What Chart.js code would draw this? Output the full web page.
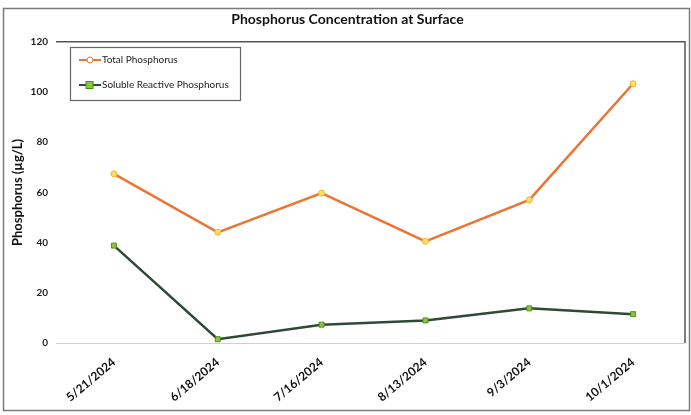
<!DOCTYPE html>
<html>
<head>
<meta charset="utf-8">
<script src="https://cdn.jsdelivr.net/npm/chart.js@4/dist/chart.umd.min.js"></script>
<style>
html,body{margin:0;padding:0;background:#fff;}
#wrap{width:691px;height:415px;position:relative;}
</style>
</head>
<body>
<div id="wrap"><canvas id="c" width="691" height="415"></canvas></div>
<script>
const categories = ["5/21/2024","6/18/2024","7/16/2024","8/13/2024","9/3/2024","10/1/2024"];
const totalPhosphorus = [67.4, 44.1, 59.7, 40.5, 57.0, 103.3];
const solubleReactivePhosphorus = [38.8, 1.5, 7.3, 9.0, 13.8, 11.5];
const yTicks = [0, 20, 40, 60, 80, 100, 120];
const seriesNames = ["Total Phosphorus", "Soluble Reactive Phosphorus"];

const FONT = "Lato, 'Open Sans', sans-serif";

const framePlugin = {
  id: 'frame',
  beforeDraw(chart) {
    const ctx = chart.ctx;
    ctx.save();
    ctx.fillStyle = '#fff';
    ctx.fillRect(0, 0, chart.width, chart.height);
    ctx.strokeStyle = '#7a7a7a';
    ctx.lineWidth = 1.5;
    ctx.strokeRect(3.5, 8.5, 686, 402);
    ctx.restore();
  },
  beforeDatasetsDraw(chart) {
    const {ctx, chartArea: a} = chart;
    ctx.save();
    ctx.strokeStyle = '#d0d0d0';
    ctx.lineWidth = 1;
    ctx.beginPath();
    ctx.moveTo(a.left - 6, a.bottom + 0.5);
    ctx.lineTo(a.right, a.bottom + 0.5);
    ctx.stroke();
    ctx.strokeStyle = '#555';
    ctx.lineWidth = 1.5;
    ctx.beginPath();
    ctx.moveTo(a.left - 6, a.top);
    ctx.lineTo(a.right, a.top);
    ctx.lineTo(a.right, a.bottom);
    ctx.stroke();
    ctx.restore();
  },
  afterDraw(chart) {
    const ctx = chart.ctx;
    const x = 70, y = 47, w = 170, h = 53;
    ctx.save();
    ctx.fillStyle = '#fff';
    ctx.fillRect(x, y, w, h);
    ctx.strokeStyle = '#666';
    ctx.lineWidth = 1.2;
    ctx.strokeRect(x + 0.5, y + 0.5, w, h);
    ctx.font = "10px " + FONT;
    ctx.textBaseline = 'middle';
    chart.data.datasets.forEach((ds, i) => {
      const yy = y + 13 + i * 25;
      ctx.strokeStyle = ds.borderColor;
      ctx.lineWidth = 2;
      ctx.beginPath();
      ctx.moveTo(x + 9, yy);
      ctx.lineTo(x + 31, yy);
      ctx.stroke();
      ctx.fillStyle = ds.pointBackgroundColor;
      ctx.strokeStyle = ds.pointBorderColor;
      ctx.lineWidth = 1;
      if (ds.pointStyle === 'rect') {
        ctx.fillRect(x + 16, yy - 3.5, 7, 7);
        ctx.strokeRect(x + 16, yy - 3.5, 7, 7);
      } else {
        ctx.beginPath();
        ctx.arc(x + 20, yy, 3, 0, Math.PI * 2);
        ctx.fillStyle = '#fff';
        ctx.fill();
        ctx.strokeStyle = ds.borderColor;
        ctx.stroke();
      }
      ctx.fillStyle = '#222';
      ctx.fillText(ds.label, x + 32, yy);
    });
    ctx.restore();
  }
};

new Chart(document.getElementById('c'), {
  type: 'line',
  data: {
    labels: categories,
    datasets: [
      {
        label: seriesNames[0],
        data: totalPhosphorus,
        borderColor: '#EC7434',
        borderWidth: 2.5,
        pointRadius: 3,
        pointStyle: 'circle',
        pointBackgroundColor: '#FFE066',
        pointBorderColor: '#F2B233',
        pointBorderWidth: 1,
        tension: 0,
        fill: false
      },
      {
        label: seriesNames[1],
        data: solubleReactivePhosphorus,
        borderColor: '#2E4A35',
        borderWidth: 2.5,
        pointRadius: 3.5,
        pointStyle: 'rect',
        pointBackgroundColor: '#8CC63F',
        pointBorderColor: '#4E8C1E',
        pointBorderWidth: 1,
        tension: 0,
        fill: false
      }
    ]
  },
  options: {
    responsive: false,
    animation: false,
    devicePixelRatio: 1,
    layout: { padding: { left: 10, right: 6, top: 0, bottom: 4 } },
    plugins: {
      legend: { display: false },
      tooltip: { enabled: false },
      title: {
        display: true,
        text: 'Phosphorus Concentration at Surface',
        color: '#111',
        font: { family: FONT, size: 14, weight: 'bold' },
        padding: { top: 11, bottom: 14 }
      }
    },
    scales: {
      x: {
        type: 'category',
        offset: true,
        grid: { display: false, drawTicks: false },
        border: { display: false },
        ticks: {
          color: '#111',
          font: { family: FONT, size: 12, weight: 'bold' },
          minRotation: 40,
          maxRotation: 40,
          padding: 12
        },
        afterFit(scale) { scale.height = 68; }
      },
      y: {
        min: 0,
        max: 120,
        afterBuildTicks(scale) { scale.ticks = yTicks.map(v => ({ value: v })); },
        grid: { display: false, drawTicks: false },
        border: { display: false },
        ticks: {
          color: '#222',
          font: { family: FONT, size: 10, weight: 'bold' },
          padding: 14
        },
        title: {
          display: true,
          text: 'Phosphorus (µg/L)',
          color: '#111',
          font: { family: FONT, size: 13, weight: 'bold' },
          padding: 0
        },
        afterFit(scale) { scale.width = 52; }
      }
    }
  },
  plugins: [framePlugin]
});
</script>
</body>
</html>
